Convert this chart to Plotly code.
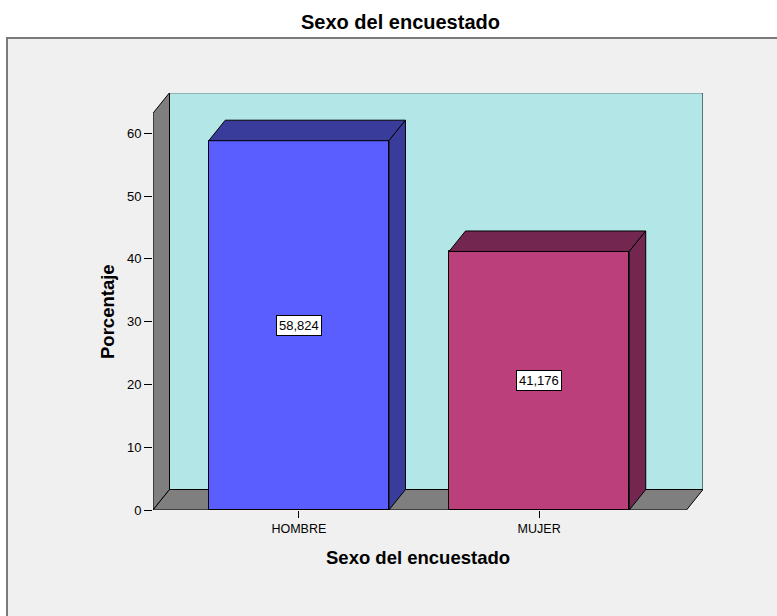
import plotly.graph_objects as go

# ---------------- data ----------------
categories = ["HOMBRE", "MUJER"]
percentages = [58.824, 41.176]
labels = ["58,824", "41,176"]
y_ticks = [0, 10, 20, 30, 40, 50, 60]

# ---------------- style ----------------
front_colors = ["#5a5eff", "#bb3f7b"]
dark_colors = ["#3a3c9c", "#722650"]
WALL = "#b3e6e6"
GRAY = "#7f7f7f"
FRAME_BG = "#f0f0f0"
FONT = "Arial, Liberation Sans, sans-serif"

W, H = 777, 616
L, R, T, B = 153, 74, 93, 106          # plot-area margins (px)
PW, PH = W - L - R, H - T - B

X0, X1 = -0.607, 1.682                  # category axis range
Y1 = 66.42                              # value axis range top
BAR_W = 0.75
px_x = PW / (X1 - X0)
px_y = PH / Y1
DX = 16.5 / px_x                        # depth offset in data units
DY = 20.5 / px_y
WALL_TOP = 63.2
FLOOR_RIGHT = X1 - DX


def px2paper(px, py):
    return (px - L) / PW, ((H - B) - py) / PH


fig = go.Figure()

# front faces of the bars
fig.add_trace(go.Bar(
    x=list(range(len(categories))), y=percentages, width=BAR_W,
    marker=dict(color=front_colors, line=dict(color="black", width=1)),
    hoverinfo="skip", showlegend=False,
))

# top and side faces
for i, v in enumerate(percentages):
    xa, xb = i - BAR_W / 2, i + BAR_W / 2
    fig.add_trace(go.Scatter(
        x=[xa, xa + DX, xb + DX, xb, xa], y=[v, v + DY, v + DY, v, v],
        fill="toself", fillcolor=dark_colors[i], mode="lines",
        line=dict(color="black", width=1), hoverinfo="skip", showlegend=False))
    fig.add_trace(go.Scatter(
        x=[xb, xb, xb + DX, xb + DX, xb], y=[0, v, v + DY, DY, 0],
        fill="toself", fillcolor=dark_colors[i], mode="lines",
        line=dict(color="black", width=1), hoverinfo="skip", showlegend=False))

shapes = []
fx0, fy1 = px2paper(7, 38)
fx1, fy0 = px2paper(W + 10, H + 10)
# outer grey frame
shapes.append(dict(type="rect", xref="paper", yref="paper",
                   x0=fx0, x1=fx1, y0=fy0, y1=fy1,
                   fillcolor=FRAME_BG, line=dict(color="#7a7a7a", width=2),
                   layer="below"))
# back wall
shapes.append(dict(type="rect", xref="x", yref="y",
                   x0=X0 + DX, x1=X1, y0=DY, y1=WALL_TOP + DY,
                   fillcolor=WALL, line=dict(color="black", width=1),
                   layer="below"))
# left wall
shapes.append(dict(type="path", xref="x", yref="y",
                   path=f"M {X0},0 L {X0},{WALL_TOP} L {X0+DX},{WALL_TOP+DY} L {X0+DX},{DY} Z",
                   fillcolor=GRAY, line=dict(color="black", width=1), layer="below"))
# floor
shapes.append(dict(type="path", xref="x", yref="y",
                   path=f"M {X0},0 L {X0+DX},{DY} L {X1},{DY} L {FLOOR_RIGHT},0 Z",
                   fillcolor=GRAY, line=dict(color="black", width=1), layer="below"))

annotations = []
for i, v in enumerate(percentages):
    annotations.append(dict(x=i, y=v / 2, xref="x", yref="y", text=labels[i],
                            showarrow=False, bgcolor="white", bordercolor="black",
                            borderwidth=1, borderpad=2, xanchor="center", yanchor="middle",
                            font=dict(family=FONT, size=13, color="black")))

tx, ty = px2paper(400, 22)
annotations.append(dict(x=tx, y=ty, xref="paper", yref="paper",
                        text="<b>Sexo del encuestado</b>", showarrow=False,
                        xanchor="center", yanchor="middle",
                        font=dict(family=FONT, size=20, color="black")))
ax_, ay_ = px2paper(418, 557)
annotations.append(dict(x=ax_, y=ay_, xref="paper", yref="paper",
                        text="<b>Sexo del encuestado</b>", showarrow=False,
                        xanchor="center", yanchor="middle",
                        font=dict(family=FONT, size=18.5, color="black")))
px_, py_ = px2paper(107, 312)
annotations.append(dict(x=px_, y=py_, xref="paper", yref="paper",
                        text="<b>Porcentaje</b>", showarrow=False, textangle=-90,
                        xanchor="center", yanchor="middle",
                        font=dict(family=FONT, size=18.5, color="black")))

fig.update_layout(
    width=W, height=H, margin=dict(l=L, r=R, t=T, b=B, autoexpand=False),
    paper_bgcolor="white", plot_bgcolor="rgba(0,0,0,0)",
    shapes=shapes, annotations=annotations, bargap=0,
    xaxis=dict(range=[X0, X1], tickvals=list(range(len(categories))), ticktext=categories,
               ticks="outside", ticklen=7, tickcolor="black", showgrid=False,
               zeroline=False, showline=False, fixedrange=True,
               tickfont=dict(family=FONT, size=12.5, color="black")),
    yaxis=dict(range=[0, Y1], tickvals=y_ticks, ticks="outside", ticklen=8,
               tickcolor="black", showgrid=False, zeroline=False, showline=False,
               fixedrange=True, tickfont=dict(family=FONT, size=13, color="black")),
)

fig.write_html("out.html", config={"displayModeBar": False},
               post_script="document.body.style.margin='0px';document.body.style.overflow='hidden';")
